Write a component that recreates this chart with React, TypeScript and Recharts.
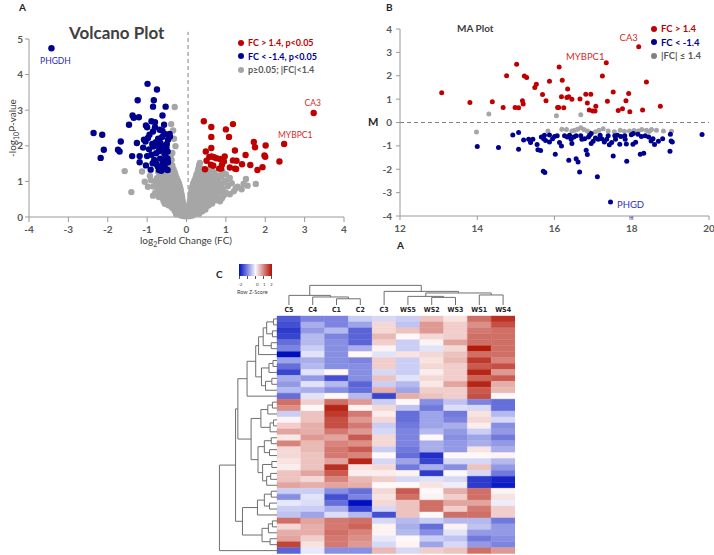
import React from "react";
import { ReferenceArea, ReferenceLine, Scatter, ScatterChart, XAxis, YAxis } from "recharts";

const RED = "#c00000";
const BLUE = "#00008f";
const GREY = "#a6a6a6";
const AXIS = "#9a9a9a";
const INK = "#595959";
const FONT = "Lato, 'Open Sans', sans-serif";

type Pair = [number, number];
type Tag = { name: string; x: number; y: number };
type Tree = number | [Tree, Tree, number];

// ---------- panel A: volcano, [log2 FC, -log10 p]
const volcanoXTicks = [-4, -3, -2, -1, 0, 1, 2, 3, 4];
const volcanoYTicks = [0, 1, 2, 3, 4, 5];

const volcanoUp: Pair[] = [
  [3.23, 2.92], [2.48, 2.05], [0.44, 2.69], [0.63, 2.53], [1.18, 2.61], [1.0, 2.46], [1.08, 2.25],
  [0.63, 2.25], [1.71, 2.11], [1.74, 1.96], [2.01, 2.01], [0.63, 1.94], [1.23, 1.87], [0.49, 1.84],
  [1.5, 1.74], [1.98, 1.73], [2.0, 1.69], [0.58, 1.69], [0.64, 1.7], [0.7, 1.68], [0.76, 1.65],
  [0.85, 1.63], [0.97, 1.7], [0.51, 1.58], [1.18, 1.59], [1.27, 1.58], [2.36, 1.56], [0.95, 1.56],
  [0.9, 1.47], [0.62, 1.47], [0.68, 1.44], [1.41, 1.48], [1.62, 1.46], [1.93, 1.4], [1.1, 1.39],
  [1.23, 1.36], [0.47, 1.34], [0.83, 1.36], [0.88, 1.36], [1.8, 1.32], [1.26, 1.35],
];

const volcanoDown: Pair[] = [
  [-3.43, 4.74], [-0.99, 3.74], [-0.75, 3.58], [-1.24, 3.28], [-0.83, 3.28], [-0.85, 3.1], [-0.53, 3.1],
  [-1.37, 2.85], [-1.34, 2.79], [-1.21, 2.8], [-0.61, 2.85], [-1.46, 2.59], [-1.03, 2.57], [-1.0, 2.52],
  [-0.89, 2.69], [-0.8, 2.66], [-0.57, 2.59], [-2.36, 2.36], [-2.14, 2.31], [-0.8, 2.52], [-0.94, 2.31],
  [-0.61, 2.42], [-0.55, 2.33], [-0.43, 2.33], [-0.42, 2.26], [-0.47, 2.17], [-1.67, 2.12], [-1.26, 2.08],
  [-1.08, 2.17], [-1.04, 2.12], [-1.74, 1.89], [-1.7, 1.84], [-2.1, 1.89], [-0.87, 2.05], [-0.84, 1.98],
  [-0.74, 2.03], [-0.69, 1.94], [-0.6, 1.99], [-0.63, 1.88], [-0.51, 1.96], [-0.48, 1.84], [-0.56, 1.78],
  [-0.53, 1.69], [-0.77, 1.79], [-0.89, 1.75], [-1.38, 1.71], [-1.19, 1.71], [-1.0, 1.71], [-2.18, 1.66],
  [-0.67, 1.64], [-0.6, 1.54], [-0.48, 1.64], [-0.47, 1.54], [-0.79, 1.54], [-0.86, 1.51], [-1.19, 1.54],
  [-1.03, 1.45], [-0.91, 1.33], [-0.7, 1.32], [-0.64, 1.3], [-0.53, 1.35], [-0.48, 1.32], [-0.76, 1.48],
  [-0.73, 1.42], [-0.56, 1.45], [-0.62, 2.25], [-0.72, 2.2], [-0.66, 2.08], [-0.78, 2.1], [-0.5, 2.05],
  [-0.58, 1.9], [-0.7, 1.85], [-0.82, 1.6], [-0.54, 1.6], [-0.62, 1.42], [-0.95, 1.9], [-0.98, 2.22],
  [-1.1, 1.95], [-0.85, 2.4], [-0.68, 2.45],
];

const volcanoNs: Pair[] = [
  [-0.02, 0.02], [-0.08, 0.03], [-0.14, 0.04], [-0.04, 0.09], [-0.12, 0.08], [-0.2, 0.1], [-0.26, 0.08],
  [-0.06, 0.15], [-0.14, 0.16], [-0.22, 0.14], [-0.3, 0.17], [-0.05, 0.23], [-0.13, 0.22], [-0.21, 0.24],
  [-0.29, 0.21], [-0.36, 0.25], [-0.07, 0.3], [-0.15, 0.31], [-0.23, 0.29], [-0.31, 0.32], [-0.39, 0.3],
  [-0.46, 0.33], [-0.08, 0.38], [-0.16, 0.39], [-0.24, 0.37], [-0.32, 0.4], [-0.4, 0.38], [-0.48, 0.41],
  [-0.55, 0.37], [-0.1, 0.46], [-0.18, 0.47], [-0.26, 0.45], [-0.34, 0.48], [-0.42, 0.46], [-0.5, 0.47],
  [-0.58, 0.44], [-0.11, 0.54], [-0.19, 0.55], [-0.27, 0.53], [-0.35, 0.56], [-0.43, 0.54], [-0.51, 0.55],
  [-0.6, 0.52], [-0.7, 0.56], [-0.12, 0.62], [-0.2, 0.63], [-0.28, 0.61], [-0.36, 0.64], [-0.44, 0.62],
  [-0.52, 0.63], [-0.6, 0.61], [-0.68, 0.64], [-0.14, 0.7], [-0.22, 0.71], [-0.3, 0.69], [-0.38, 0.72],
  [-0.46, 0.7], [-0.54, 0.71], [-0.62, 0.69], [-0.72, 0.72], [-0.79, 0.69], [-0.15, 0.78], [-0.23, 0.79],
  [-0.31, 0.77], [-0.39, 0.8], [-0.47, 0.78], [-0.55, 0.79], [-0.63, 0.77], [-0.7, 0.8], [-0.17, 0.86],
  [-0.25, 0.87], [-0.33, 0.85], [-0.41, 0.88], [-0.49, 0.86], [-0.57, 0.87], [-0.65, 0.85], [-0.74, 0.88],
  [-0.84, 0.86], [-0.19, 0.94], [-0.27, 0.95], [-0.35, 0.93], [-0.43, 0.96], [-0.51, 0.94], [-0.59, 0.95],
  [-0.67, 0.93], [-0.78, 0.96], [-0.22, 1.02], [-0.3, 1.03], [-0.38, 1.01], [-0.46, 1.04], [-0.54, 1.02],
  [-0.62, 1.03], [-0.7, 1.01], [-0.9, 1.03], [-0.25, 1.1], [-0.33, 1.11], [-0.41, 1.09], [-0.49, 1.12],
  [-0.57, 1.1], [-0.65, 1.11], [-0.75, 1.09], [-0.28, 1.18], [-0.36, 1.19], [-0.44, 1.17], [-0.52, 1.2],
  [-0.6, 1.18], [-0.68, 1.19], [-0.3, 1.26], [-0.38, 1.27], [-0.46, 1.25], [-0.54, 1.28], [-0.62, 1.26],
  [-0.72, 1.27], [-0.33, 1.34], [-0.41, 1.35], [-0.49, 1.33], [-0.36, 1.45], [-0.44, 1.43], [-0.38, 1.6],
  [-0.45, 1.58], [-0.36, 1.8], [-0.3, 3.09], [-0.39, 2.61], [-0.34, 2.43], [-0.28, 1.99], [-0.4, 1.73],
  [-0.32, 2.2], [-1.57, 1.29], [-1.4, 0.7], [-1.06, 0.99], [-1.13, 1.28], [-0.93, 1.15], [-0.98, 0.85],
  [-0.85, 0.6],
  [0.03, 0.02], [0.09, 0.03], [0.15, 0.04], [0.04, 0.08], [0.11, 0.09], [0.18, 0.08], [0.25, 0.1],
  [0.32, 0.09], [0.05, 0.15], [0.12, 0.16], [0.19, 0.14], [0.26, 0.17], [0.33, 0.15], [0.4, 0.16],
  [0.06, 0.22], [0.13, 0.23], [0.2, 0.21], [0.27, 0.24], [0.34, 0.22], [0.41, 0.23], [0.48, 0.21],
  [0.07, 0.3], [0.14, 0.31], [0.21, 0.29], [0.28, 0.32], [0.35, 0.3], [0.42, 0.31], [0.49, 0.29],
  [0.56, 0.32], [0.08, 0.38], [0.15, 0.39], [0.22, 0.37], [0.29, 0.4], [0.36, 0.38], [0.43, 0.39],
  [0.5, 0.37], [0.57, 0.4], [0.65, 0.38], [0.09, 0.46], [0.16, 0.47], [0.23, 0.45], [0.3, 0.48],
  [0.37, 0.46], [0.44, 0.47], [0.51, 0.45], [0.58, 0.48], [0.66, 0.46], [0.74, 0.47], [0.85, 0.44],
  [0.1, 0.54], [0.17, 0.55], [0.24, 0.53], [0.31, 0.56], [0.38, 0.54], [0.45, 0.55], [0.52, 0.53],
  [0.59, 0.56], [0.67, 0.54], [0.76, 0.55], [0.9, 0.53], [0.11, 0.62], [0.18, 0.63], [0.25, 0.61],
  [0.32, 0.64], [0.39, 0.62], [0.46, 0.63], [0.53, 0.61], [0.6, 0.64], [0.68, 0.62], [0.78, 0.63],
  [0.95, 0.61], [1.1, 0.64], [0.12, 0.7], [0.19, 0.71], [0.26, 0.69], [0.33, 0.72], [0.4, 0.7],
  [0.47, 0.71], [0.54, 0.69], [0.62, 0.72], [0.72, 0.7], [0.84, 0.71], [1.0, 0.69], [1.2, 0.72],
  [0.13, 0.78], [0.2, 0.79], [0.27, 0.77], [0.34, 0.8], [0.41, 0.78], [0.48, 0.79], [0.56, 0.77],
  [0.66, 0.8], [0.8, 0.78], [0.92, 0.79], [1.25, 0.8], [1.4, 0.78], [0.15, 0.86], [0.22, 0.87],
  [0.29, 0.85], [0.36, 0.88], [0.43, 0.86], [0.5, 0.87], [0.58, 0.85], [0.7, 0.88], [0.85, 0.86],
  [1.05, 0.87], [1.3, 0.85], [1.55, 0.88], [0.17, 0.94], [0.24, 0.95], [0.31, 0.93], [0.38, 0.96],
  [0.45, 0.94], [0.53, 0.95], [0.62, 0.93], [0.75, 0.96], [0.9, 0.94], [1.15, 0.95], [1.45, 0.93],
  [1.76, 0.93], [0.2, 1.02], [0.27, 1.03], [0.34, 1.01], [0.41, 1.04], [0.48, 1.02], [0.56, 1.03],
  [0.66, 1.01], [0.8, 1.04], [1.0, 1.02], [1.51, 1.07], [0.23, 1.1], [0.3, 1.11], [0.37, 1.09],
  [0.44, 1.12], [0.52, 1.1], [0.6, 1.11], [0.72, 1.09], [0.88, 1.12], [1.1, 1.1], [0.25, 1.18],
  [0.32, 1.19], [0.4, 1.17], [0.48, 1.2], [0.57, 1.18], [0.68, 1.19], [0.82, 1.17], [1.0, 1.2],
  [0.28, 1.26], [0.36, 1.27], [0.44, 1.25], [0.55, 1.28], [0.7, 1.26], [0.92, 1.27], [0.3, 1.35],
  [0.38, 1.36], [0.6, 1.34], [0.32, 1.45], [0.34, 1.52],
];

const volcanoTags: Tag[] = [
  { name: "PHGDH", x: -3.43, y: 4.74 },
  { name: "CA3", x: 3.23, y: 2.92 },
  { name: "MYBPC1", x: 2.48, y: 2.05 },
];

// ---------- panel B: MA plot, [A, M]
const maXTicks = [12, 14, 16, 18, 20];
const maYTicks = [-4, -3, -2, -1, 0, 1, 2, 3, 4];

const maUp: Pair[] = [
  [13.08, 1.27], [13.81, 0.86], [14.39, 0.89], [14.67, 0.64], [14.76, 2.0], [15.02, 2.49], [14.98, 0.64],
  [15.07, 0.63], [15.17, 0.93], [15.19, 0.79], [15.22, 1.99], [15.28, 1.93], [15.49, 1.5], [15.53, 1.64],
  [15.69, 1.2], [15.78, 0.93], [15.87, 1.76], [16.08, 0.64], [16.11, 0.64], [16.12, 2.37], [16.2, 1.81],
  [16.18, 1.1], [16.24, 0.63], [16.32, 1.07], [16.37, 1.1], [16.34, 1.43], [16.45, 0.99], [16.66, 1.01],
  [16.81, 1.21], [16.85, 0.83], [16.94, 1.21], [16.9, 0.53], [16.99, 0.49], [17.05, 0.49], [17.07, 0.7],
  [17.24, 1.99], [17.34, 2.56], [17.37, 0.91], [17.52, 1.3], [17.65, 0.51], [17.76, 0.59], [17.85, 0.93],
  [17.92, 1.24], [17.95, 0.46], [18.18, 3.24], [18.28, 0.53], [18.38, 1.73], [18.74, 0.7],
];

const maDown: Pair[] = [
  [14.0, -1.03], [14.55, -1.07], [14.92, -0.53], [15.07, -0.43], [15.07, -1.14], [15.33, -0.72],
  [15.44, -0.72], [15.38, -0.86], [15.55, -0.94], [15.57, -1.17], [15.64, -1.2], [15.66, -0.62],
  [15.72, -0.69], [15.74, -0.55], [15.77, -0.77], [15.87, -0.83], [16.02, -1.36], [16.07, -0.57],
  [16.13, -0.86], [16.18, -1.0], [16.26, -0.57], [16.33, -0.62], [16.39, -0.55], [16.43, -0.72],
  [16.45, -0.9], [16.37, -1.62], [16.56, -0.57], [16.68, -0.57], [16.71, -0.72], [16.56, -1.55],
  [16.61, -1.69], [16.82, -1.19], [16.85, -1.37], [16.78, -0.69], [16.91, -0.55], [16.95, -0.47],
  [17.06, -0.66], [17.13, -0.72], [17.22, -0.69], [17.29, -0.83], [17.35, -0.72], [17.39, -0.57],
  [17.48, -0.86], [17.56, -0.57], [17.63, -0.55], [16.65, -2.12], [17.11, -2.32], [17.52, -1.43],
  [17.69, -0.93], [17.82, -0.57], [17.83, -0.72], [17.86, -0.92], [17.87, -1.66], [17.99, -0.52],
  [18.03, -0.93], [18.04, -0.47], [18.16, -0.5], [18.22, -1.36], [18.31, -1.32], [18.35, -0.57],
  [18.44, -0.62], [18.5, -0.79], [18.55, -0.69], [18.59, -0.94], [18.69, -0.8], [18.8, -0.69],
  [18.99, -1.23], [19.0, -0.5], [19.02, -0.79], [19.05, -0.83], [19.82, -0.51], [15.71, -2.09],
  [15.75, -2.14], [17.45, -3.4], [15.87, -0.54], [15.95, -0.7], [16.5, -0.62], [16.95, -0.9],
  [17.18, -0.55], [17.42, -0.95], [17.58, -0.72], [17.72, -0.6], [18.1, -0.85], [18.25, -0.6],
  [15.2, -0.75], [16.0, -0.6], [17.0, -0.8], [16.88, -0.62],
];

const maNs: Pair[] = [
  [14.3, 0.36], [16.05, 0.29], [16.68, 0.33], [13.98, -0.41], [15.83, -0.36], [16.19, -0.29],
  [16.45, -0.36], [16.52, -0.33], [16.6, -0.29], [16.68, -0.22], [16.76, -0.3], [16.85, -0.36],
  [17.06, -0.4], [17.26, -0.27], [17.39, -0.36], [17.55, -0.4], [17.81, -0.37], [17.94, -0.36],
  [18.06, -0.34], [18.17, -0.36], [18.26, -0.3], [18.38, -0.33], [18.51, -0.3], [18.64, -0.33],
  [18.82, -0.36], [19.03, -0.37], [16.31, -0.3], [16.9, -0.42], [17.15, -0.33], [18.12, -0.42],
  [18.45, -0.38], [17.7, -0.33],
];

const maTags: Tag[] = [
  { name: "CA3", x: 18.18, y: 3.24 },
  { name: "MYBPC1", x: 17.34, y: 2.56 },
  { name: "PHGD", x: 17.45, y: -3.4 },
];

// ---------- panel C: heatmap (row z-scores), columns in dendrogram order
const sampleLabels = ["C5", "C4", "C1", "C2", "C3", "WS5", "WS2", "WS3", "WS1", "WS4"];

const zScores: number[][] = [
  [-1.5, -1.1, -1.1, -0.4, -0.3, -0.4, 0.5, 0.2, 1.3, 1.9],
  [-1.6, -0.7, -1.1, -0.8, 0.3, -0.5, 0.9, 0.4, 1.0, 1.6],
  [-1.8, -0.9, -0.6, -1.4, 0.3, 0.5, 0.9, 0.4, 1.2, 1.3],
  [-1.7, -0.6, -1.1, -1.4, 0.6, 0.0, 0.3, 0.4, 1.3, 1.3],
  [-1.3, -0.6, -1.0, -1.4, 0.4, -0.4, 0.05, 0.8, 1.3, 1.3],
  [-1.1, -0.4, -1.0, -0.7, 0.05, -0.4, -0.2, 0.3, 2.1, 1.3],
  [-2.3, -0.2, -1.0, 0.0, -0.2, 0.2, 0.3, 0.5, 1.3, 1.3],
  [-0.8, -0.7, -1.0, -1.1, 0.4, -0.4, 0.2, 0.6, 1.8, 1.1],
  [-1.3, -0.6, -1.0, -1.0, 0.4, -0.4, 0.3, 0.4, 1.5, 1.6],
  [-1.7, -0.2, 0.0, -1.0, -0.3, -0.4, 0.1, 0.4, 2.0, 0.9],
  [-0.7, -0.9, -1.6, -1.0, 0.5, -0.2, 0.3, 0.4, 1.4, 1.5],
  [-0.9, -0.2, -0.6, -1.4, -0.4, -0.6, 0.15, 0.8, 2.0, 0.7],
  [-0.6, -0.7, -1.0, -1.3, 0.7, -0.8, 0.4, 0.4, 1.5, 0.6],
  [-1.3, -0.2, 0.0, -0.6, -1.7, 0.7, 0.5, 0.4, 1.6, 0.0],
  [1.3, 0.4, 1.3, 0.9, -0.4, 0.0, -1.0, -0.5, -1.1, -1.3],
  [1.0, 0.0, 2.0, 0.05, 0.3, -0.5, -1.2, -0.25, -0.3, -1.3],
  [-0.4, 0.5, 1.8, 1.2, 0.1, -1.3, -0.8, -1.2, 0.2, -0.6],
  [0.05, 0.5, 1.6, 0.9, 0.3, -1.3, -0.8, -1.1, 0.3, -0.3],
  [0.4, 0.7, 1.6, 1.2, -0.4, -1.2, -0.8, -0.7, 0.1, -1.0],
  [0.8, 0.7, 1.2, 0.9, -0.3, -1.1, -0.6, -0.9, -0.4, -0.9],
  [0.15, 0.9, 0.8, 1.5, 0.3, -1.1, 0.0, -1.0, -0.8, -1.2],
  [1.1, 0.6, 1.1, 1.0, 0.3, -1.1, -0.7, -0.9, -0.7, -0.9],
  [0.3, 0.6, 1.2, 1.5, -0.4, -1.2, -0.7, -0.9, 0.2, -0.7],
  [0.3, 0.5, 1.2, 1.1, 0.0, -1.3, -1.9, 0.0, 0.0, 0.05],
  [0.2, 0.5, 0.8, 2.0, -0.3, -0.8, -1.7, -0.3, -0.3, -0.6],
  [0.1, 0.5, 1.9, 0.2, 0.3, -1.2, -0.7, -1.0, 0.5, -0.9],
  [0.5, 0.8, 1.5, 0.1, 0.1, 0.05, -1.8, 0.0, -0.3, -1.2],
  [0.5, 0.3, 1.1, 0.6, 0.4, -0.3, -0.2, -0.3, -1.8, -2.0],
  [0.8, 0.7, 0.8, 0.7, 0.0, 0.0, 0.2, -0.1, -1.8, -2.1],
  [-0.4, -0.4, -1.0, -1.3, 0.3, 1.5, 0.0, 0.7, 1.3, 0.05],
  [-1.0, -0.2, -1.6, -1.1, 0.2, 1.3, 0.05, 0.4, 1.3, 0.2],
  [-0.15, -0.25, -1.3, -2.2, 0.3, 0.5, 1.3, 0.8, 0.8, -0.1],
  [-0.4, -0.4, -0.7, -1.7, -0.3, 0.5, 1.3, 0.4, 1.2, 0.4],
  [-0.5, -0.8, -0.25, -0.6, -1.6, 0.5, 0.0, 1.3, 1.3, 0.4],
  [1.3, 0.8, 1.2, 1.3, -0.3, -0.6, -0.4, -0.6, -0.6, -1.2],
  [0.3, 0.7, 1.2, 1.4, 0.05, -0.7, -1.3, 0.05, -0.5, -0.9],
  [0.7, 0.7, 1.3, 1.1, 0.05, -0.6, -1.0, -0.2, -0.9, -0.9],
  [0.8, 0.4, 1.2, 1.0, -0.15, 0.0, -0.4, -0.5, -1.2, -1.0],
  [1.7, 0.2, 1.2, 0.9, -0.3, 0.05, -0.8, -0.3, -0.9, -1.1],
  [-1.4, -0.15, -1.0, -1.0, 0.6, -0.3, 0.4, 0.5, 1.3, 0.9],
];

// merge trees: [left, right, height]; leaves are row / column indices
const rowTop: Tree = [
  [
    [[[[0, 1, 0.06], [2, 3, 0.08], 0.18], [4, 5, 0.1], 0.24], 6, 0.32],
    [[[7, 8, 0.07], 9, 0.14], [[10, 11, 0.09], 12, 0.2], 0.27],
    0.37,
  ],
  13,
  0.52,
];
const rowMid: Tree = [
  [[[14, 15, 0.08], 16, 0.16], [[17, 18, 0.06], 19, 0.12], 0.28],
  [[[20, 21, 0.1], [22, 23, 0.13], 0.22], [[24, 25, 0.09], [[26, 27, 0.11], 28, 0.18], 0.25], 0.33],
  0.45,
];
const rowLow: Tree = [
  [[[29, 30, 0.1], [31, 32, 0.13], 0.22], 33, 0.34],
  [[[34, 35, 0.08], 36, 0.15], [37, 38, 0.12], 0.26],
  0.6,
];
const rowTree: Tree = [[[rowTop, rowMid, 0.68], rowLow, 0.72], 39, 1.0];

const colTree: Tree = [
  [0, [1, [2, 3, 0.31], 0.4], 0.48],
  [4, [[5, [6, 7, 0.38], 0.43], [8, 9, 0.5], 0.6], 0.68],
  0.98,
];

// ---------- helpers
const pts = (list: Pair[]) => list.map(([x, y]) => ({ x, y }));

const dot = (fill: string, r: number) => (p: any) =>
  p.cx == null ? <g /> : <circle cx={p.cx} cy={p.cy} r={r} fill={fill} />;

const tagStyle: Record<string, { dx: number; dy: number; color: string }> = {
  "A:PHGDH": { dx: 4, dy: 13, color: "#2b2bb5" },
  "A:CA3": { dx: -1, dy: -10, color: "#d42a2a" },
  "A:MYBPC1": { dx: 11, dy: -9, color: "#d42a2a" },
  "B:CA3": { dx: -10, dy: -9, color: "#d42a2a" },
  "B:MYBPC1": { dx: -21, dy: -6, color: "#d42a2a" },
  "B:PHGD": { dx: 20, dy: 3, color: "#3030c0" },
};

const tag = (panel: string, size: number) => (p: any) => {
  const s = tagStyle[`${panel}:${p.payload?.name}`];
  if (!s || p.cx == null) return <g />;
  return (
    <text x={p.cx + s.dx} y={p.cy + s.dy} fill={s.color} fontSize={size} fontFamily={FONT}
      textAnchor="middle" dominantBaseline="central">
      {p.payload.name}
    </text>
  );
};

function heatColor(z: number) {
  const t = Math.min(1, Math.abs(z) / 2.2);
  const from = z < 0 ? [248, 248, 255] : [255, 248, 248];
  const to = z < 0 ? [0, 16, 192] : [176, 16, 0];
  const c = from.map((v, i) => Math.round(v + (to[i] - v) * t));
  return `rgb(${c[0]},${c[1]},${c[2]})`;
}

type Seg = { h1: number; p1: number; h2: number; p2: number };
function walk(node: Tree, segs: Seg[]): { p: number; h: number } {
  if (typeof node === "number") return { p: node + 0.5, h: 0 };
  const [a, b, h] = node;
  const l = walk(a, segs);
  const r = walk(b, segs);
  segs.push({ h1: l.h, p1: l.p, h2: h, p2: l.p });
  segs.push({ h1: r.h, p1: r.p, h2: h, p2: r.p });
  segs.push({ h1: h, p1: l.p, h2: h, p2: r.p });
  return { p: (l.p + r.p) / 2, h };
}

const axisTick = { fill: INK, fontSize: 10, fontWeight: 700, fontFamily: FONT };

function LegendRow({ color, text, textColor }: { color: string; text: string; textColor: string }) {
  return (
    <div style={{ display: "flex", alignItems: "center", whiteSpace: "nowrap" }}>
      <span style={{ width: 6, height: 6, borderRadius: 3, background: color, marginRight: 4 }} />
      <span style={{ color: textColor }}>{text}</span>
    </div>
  );
}

function VolcanoPanel() {
  return (
    <div style={{ position: "absolute", left: 0, top: 0 }}>
      <ScatterChart width={355} height={250} margin={{ top: 39, right: 11, bottom: 0, left: 0 }}>
        <XAxis type="number" dataKey="x" domain={[-4, 4]} ticks={volcanoXTicks} interval={0}
          height={33} tickSize={5} tickMargin={4} axisLine={{ stroke: AXIS }} tickLine={{ stroke: AXIS }} tick={axisTick} />
        <YAxis type="number" dataKey="y" domain={[0, 5]} ticks={volcanoYTicks} interval={0}
          width={29} tickSize={4} tickMargin={2} axisLine={{ stroke: AXIS }} tickLine={{ stroke: AXIS }} tick={axisTick} />
        <ReferenceLine segment={[{ x: 0.04, y: 0 }, { x: 0.04, y: 5.2 }]} stroke="#808080"
          strokeDasharray="4 3" ifOverflow="visible" />
        <Scatter data={pts(volcanoNs)} shape={dot(GREY, 3.2)} isAnimationActive={false} />
        <Scatter data={pts(volcanoDown)} shape={dot(BLUE, 3.2)} isAnimationActive={false} />
        <Scatter data={pts(volcanoUp)} shape={dot(RED, 3.2)} isAnimationActive={false} />
        <Scatter data={volcanoTags} shape={tag("A", 8.5)} isAnimationActive={false} />
      </ScatterChart>
    </div>
  );
}

function MaPanel() {
  return (
    <div style={{ position: "absolute", left: 355, top: 0 }}>
      <ScatterChart width={359} height={250} margin={{ top: 29, right: 5, bottom: 0, left: 0 }}>
        <XAxis type="number" dataKey="x" domain={[12, 20]} ticks={maXTicks} interval={0}
          height={34} tickSize={4} tickMargin={5} axisLine={{ stroke: AXIS }} tickLine={{ stroke: AXIS }} tick={axisTick} />
        <YAxis type="number" dataKey="y" domain={[-4, 4]} ticks={maYTicks} interval={0}
          width={45} tickSize={4} tickMargin={4} axisLine={{ stroke: AXIS }} tickLine={{ stroke: AXIS }} tick={axisTick} />
        <ReferenceLine y={0} stroke="#808080" strokeDasharray="4 3" />
        <Scatter data={pts(maNs)} shape={dot(GREY, 2.5)} isAnimationActive={false} />
        <Scatter data={pts(maDown)} shape={dot(BLUE, 2.5)} isAnimationActive={false} />
        <Scatter data={pts(maUp)} shape={dot(RED, 2.5)} isAnimationActive={false} />
        <Scatter data={maTags} shape={tag("B", 9.5)} isAnimationActive={false} />
      </ScatterChart>
    </div>
  );
}

function HeatmapPanel() {
  const rowSegs: Seg[] = [];
  walk(rowTree, rowSegs);
  const colSegs: Seg[] = [];
  walk(colTree, colSegs);
  const rowX = (h: number) => -h * 2.42;
  const colY = (h: number) => -1.85 - h * 3.37;
  const labelPts = sampleLabels.map((name, i) => ({ x: i + 0.5, y: -1.05, name }));

  return (
    <div style={{ position: "absolute", left: 218, top: 282 }}>
      <ScatterChart width={297} height={272} margin={{ top: 0, right: 0, bottom: 0, left: 0 }}>
        <XAxis type="number" dataKey="x" domain={[-2.48, 10]} hide allowDataOverflow />
        <YAxis type="number" dataKey="y" domain={[-5.72, 40.07]} reversed hide allowDataOverflow />
        {zScores.map((row, r) =>
          row.map((z, c) => (
            <ReferenceArea key={`${r}-${c}`} x1={c} x2={c + 1} y1={r} y2={r + 1}
              fill={heatColor(z)} fillOpacity={1} stroke={heatColor(z)} strokeWidth={0.4} ifOverflow="visible" />
          )),
        )}
        {rowSegs.map((s, i) => (
          <ReferenceLine key={`r${i}`} ifOverflow="visible" stroke="#6f6f6f" strokeWidth={1}
            segment={[{ x: rowX(s.h1), y: s.p1 }, { x: rowX(s.h2), y: s.p2 }]} />
        ))}
        {colSegs.map((s, i) => (
          <ReferenceLine key={`c${i}`} ifOverflow="visible" stroke="#6f6f6f" strokeWidth={1}
            segment={[{ x: s.p1, y: colY(s.h1) }, { x: s.p2, y: colY(s.h2) }]} />
        ))}
        <Scatter data={labelPts} isAnimationActive={false}
          shape={(p: any) =>
            p.cx == null ? <g /> : (
              <text x={p.cx} y={p.cy} textAnchor="middle" dominantBaseline="central" fontSize={7}
                fontWeight={700} fill="#262626" fontFamily="'DejaVu Sans Condensed', 'Liberation Sans Narrow', sans-serif">
                {p.payload.name}
              </text>
            )
          } />
      </ScatterChart>
    </div>
  );
}

const abs = (left: number, top: number, extra: React.CSSProperties = {}): React.CSSProperties => ({
  position: "absolute", left, top, whiteSpace: "nowrap", ...extra,
});

export default function App() {
  return (
    <div style={{ position: "absolute", left: 0, top: 0, width: 714, height: 555, background: "#fff",
      fontFamily: FONT, overflow: "hidden" }}>
      <VolcanoPanel />
      <MaPanel />
      <HeatmapPanel />

      {/* panel A text */}
      <div style={abs(19, 1, { fontSize: 10, fontWeight: 700, color: "#262626" })}>A</div>
      <div style={abs(69, 22, { fontSize: 17, fontWeight: 700, color: "#404040" })}>Volcano Plot</div>
      <div style={abs(238, 36, { fontSize: 9, fontWeight: 700, lineHeight: "13.5px" })}>
        <LegendRow color={RED} textColor={RED} text="FC > 1.4, p<0.05" />
        <LegendRow color={BLUE} textColor={BLUE} text="FC < -1.4, p<0.05" />
        <LegendRow color={GREY} textColor={INK} text="p≥0.05; |FC|<1.4" />
      </div>
      <div style={abs(186, 234, { fontSize: 10, color: "#404040", transform: "translateX(-50%)" })}>
        log<sub style={{ fontSize: 7 }}>2</sub>Fold Change (FC)
      </div>
      <div style={abs(13, 128, { fontSize: 10, color: "#404040", transform: "translate(-50%, -50%) rotate(-90deg)" })}>
        -log<sub style={{ fontSize: 7 }}>10</sub>P-value
      </div>

      {/* panel B text */}
      <div style={abs(386, 1, { fontSize: 10, fontWeight: 700, color: "#262626" })}>B</div>
      <div style={abs(457, 22, { fontSize: 10, fontWeight: 700, color: "#404040" })}>MA Plot</div>
      <div style={abs(651, 22, { fontSize: 9.5, fontWeight: 700, lineHeight: "13.5px" })}>
        <LegendRow color={RED} textColor={RED} text="FC > 1.4" />
        <LegendRow color={BLUE} textColor={BLUE} text="FC < -1.4" />
        <LegendRow color="#808080" textColor={INK} text="|FC| ≤ 1.4" />
      </div>
      <div style={abs(368, 115, { fontSize: 11, fontWeight: 700, color: "#262626" })}>M</div>
      <div style={abs(397, 239, { fontSize: 10, fontWeight: 700, color: "#262626" })}>A</div>
      <div style={abs(629, 214, { fontSize: 6, lineHeight: "7px", color: "#4040c0" })}>H</div>

      {/* panel C text and colour key */}
      <div style={abs(216, 268, { fontSize: 10, fontWeight: 700, color: "#262626" })}>C</div>
      <div style={abs(239, 264, { width: 33, height: 12,
        background: "linear-gradient(to right, #0010c0, #f8f8ff 50%, #b01000)" })} />
      {[0, 8, 16, 24, 32].map((dx) => (
        <div key={dx} style={abs(239 + dx, 276, { width: 1, height: 3, background: "#555" })} />
      ))}
      <div style={abs(238, 282, { fontSize: 4.5, color: "#444" })}>-2</div>
      <div style={abs(256, 282, { fontSize: 4.5, color: "#444" })}>0</div>
      <div style={abs(263, 282, { fontSize: 4.5, color: "#444" })}>1</div>
      <div style={abs(270, 282, { fontSize: 4.5, color: "#444" })}>2</div>
      <div style={abs(237, 289, { fontSize: 5.5, color: "#444" })}>Row Z-Score</div>
    </div>
  );
}
